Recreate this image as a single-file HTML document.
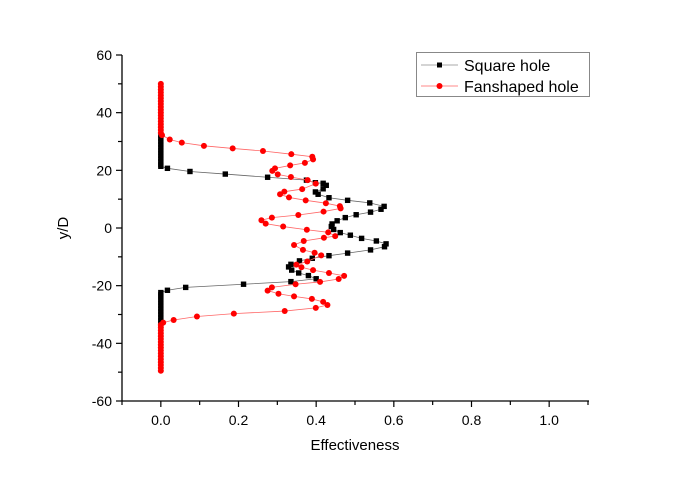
<!DOCTYPE html>
<html><head><meta charset="utf-8"><style>
body{margin:0;background:#fff;}
svg{display:block;font-family:"Liberation Sans",Arial,sans-serif;}
</style></head><body>
<svg id="chart" width="684" height="481"></svg>
<script>
const xTicks=[0.0,0.2,0.4,0.6,0.8,1.0];
const yTicks=[-60,-40,-20,0,20,40,60];
const sqX=[0.017,0.075,0.166,0.275,0.375,0.398,0.418,0.426,0.418,0.398,0.405,0.433,0.481,0.538,0.575,0.567,0.540,0.503,0.475,0.454,0.441,0.439,0.445,0.462,0.488,0.517,0.555,0.580,0.576,0.540,0.481,0.433,0.390,0.357,0.335,0.329,0.337,0.355,0.380,0.400,0.335,0.213,0.064,0.017];
const sqY=[20.7,19.6,18.7,17.6,16.6,15.7,15.5,14.8,13.6,12.5,11.7,10.5,9.6,8.7,7.5,6.5,5.5,4.6,3.6,2.5,1.4,0.5,-0.5,-1.6,-2.5,-3.6,-4.5,-5.5,-6.5,-7.6,-8.7,-9.6,-10.5,-11.4,-12.6,-13.5,-14.6,-15.6,-16.5,-17.6,-18.6,-19.5,-20.6,-21.6];
const fanX=[0.003,0.023,0.054,0.111,0.185,0.263,0.336,0.390,0.392,0.371,0.333,0.294,0.287,0.301,0.335,0.378,0.399,0.364,0.318,0.307,0.330,0.373,0.425,0.461,0.463,0.419,0.354,0.286,0.259,0.270,0.315,0.376,0.431,0.449,0.420,0.368,0.343,0.366,0.396,0.413,0.377,0.349,0.362,0.392,0.433,0.472,0.458,0.410,0.347,0.286,0.275,0.303,0.343,0.389,0.418,0.429,0.399,0.319,0.188,0.093,0.033,0.006];
const fanY=[32.2,30.7,29.6,28.5,27.6,26.7,25.6,24.7,23.8,22.6,21.7,20.7,19.8,18.6,17.7,16.6,15.4,13.5,12.6,11.7,10.6,9.6,8.6,7.6,6.8,5.7,4.5,3.6,2.7,1.5,0.5,-0.6,-1.5,-2.8,-3.4,-4.5,-5.9,-7.6,-8.6,-9.5,-11.6,-12.7,-13.6,-14.6,-15.6,-16.6,-17.7,-18.7,-19.5,-20.6,-21.7,-22.8,-23.7,-24.6,-25.6,-26.7,-27.7,-28.8,-29.7,-30.7,-31.9,-32.8];
const sqTopY=[32,31,30,29,28,27,26,25,24,23,22,21.4];
const sqBotY=[-22.4,-23.2,-24,-25,-26,-27,-28,-29,-30,-31,-32,-33,-34];
const fanTopY=[50,49,48,47,46,45,44,43,42,41,40,39,38,37,36,35,34,33];
const fanBotY=[-33.6,-34.5,-35.5,-36.5,-37.5,-38.5,-39.5,-40.5,-41.5,-42.5,-43.5,-44.5,-45.5,-46.5,-47.5,-48.5,-49.5];

const NS="http://www.w3.org/2000/svg";
const svg=document.getElementById('chart');
const X0=122,X1=588,Y0=401,Y1=55,xmin=-0.1,xmax=1.1,ymin=-60,ymax=60;
const sx=v=>X0+(v-xmin)/(xmax-xmin)*(X1-X0);
const sy=v=>Y0-(v-ymin)/(ymax-ymin)*(Y0-Y1);
function mk(t,a,p){const e=document.createElementNS(NS,t);for(const k in a)e.setAttribute(k,a[k]);(p||svg).appendChild(e);return e;}

const ax=mk('g',{});


mk('line',{x1:X0,y1:Y0,x2:X1+1,y2:Y0,stroke:'#000','stroke-width':1.3},ax);
mk('line',{x1:X0,y1:Y0,x2:X0,y2:Y1,stroke:'#000','stroke-width':1.3},ax);
for(let v=-0.1;v<=1.101;v+=0.1){const x=sx(v);const major=xTicks.some(t=>Math.abs(t-v)<1e-6);mk('line',{x1:x,y1:Y0,x2:x,y2:Y0+(major?6:4),stroke:'#000','stroke-width':1.2},ax);}
xTicks.forEach(t=>{const e=mk('text',{x:sx(t),y:Y0+24,'text-anchor':'middle','font-size':14},ax);e.textContent=t.toFixed(1);});
for(let v=-60;v<=60;v+=10){const y=sy(v);const major=v%20===0;mk('line',{x1:X0,y1:y,x2:X0-(major?6:4),y2:y,stroke:'#000','stroke-width':1.2},ax);}
yTicks.forEach(t=>{const e=mk('text',{x:X0-10,y:sy(t)+5,'text-anchor':'end','font-size':14},ax);e.textContent=t;});
const xt=mk('text',{x:355,y:450,'text-anchor':'middle','font-size':15});xt.textContent='Effectiveness';


const yt=mk('text',{x:68,y:228,'text-anchor':'middle','font-size':15,transform:'rotate(-90 68 228)'});yt.textContent='y/D';



function series(xs,ys,color,lineColor,shape,name){
  const g=mk('g',{});
  
  
  mk('polyline',{points:xs.map((v,i)=>sx(v)+','+sy(ys[i])).join(' '),fill:'none',stroke:lineColor,'stroke-width':0.8},g);
  xs.forEach((v,i)=>{let m;
    if(shape==='sq')m=mk('rect',{x:sx(v)-2.7,y:sy(ys[i])-2.7,width:5.4,height:5.4,fill:color},g);
    else m=mk('circle',{cx:sx(v),cy:sy(ys[i]),r:3,fill:color},g);
    
    });
}
const sAllX=[...sqTopY.map(()=>0),...sqX,...sqBotY.map(()=>0)];
const sAllY=[...sqTopY,...sqY,...sqBotY];
const fAllX=[...fanTopY.map(()=>0),...fanX,...fanBotY.map(()=>0)];
const fAllY=[...fanTopY,...fanY,...fanBotY];
series(sAllX,sAllY,'#000','#666','sq','square-hole-series');
series(fAllX,fAllY,'#f00','#f66','circ','fanshaped-hole-series');

const lg=mk('g',{});


mk('rect',{x:416.5,y:52.5,width:173,height:44,fill:'#fff',stroke:'#888','stroke-width':1},lg);
mk('line',{x1:421,y1:65,x2:458,y2:65,stroke:'#aaa','stroke-width':1},lg);
mk('rect',{x:437,y:62.5,width:5,height:5,fill:'#000'},lg);
mk('line',{x1:421,y1:86,x2:458,y2:86,stroke:'#f88','stroke-width':1},lg);
mk('circle',{cx:439.5,cy:86,r:3,fill:'#f00'},lg);
const l1=mk('text',{x:464,y:71,'font-size':16},lg);l1.textContent='Square hole';


const l2=mk('text',{x:464,y:92,'font-size':16},lg);l2.textContent='Fanshaped hole';


</script>
</body></html>
